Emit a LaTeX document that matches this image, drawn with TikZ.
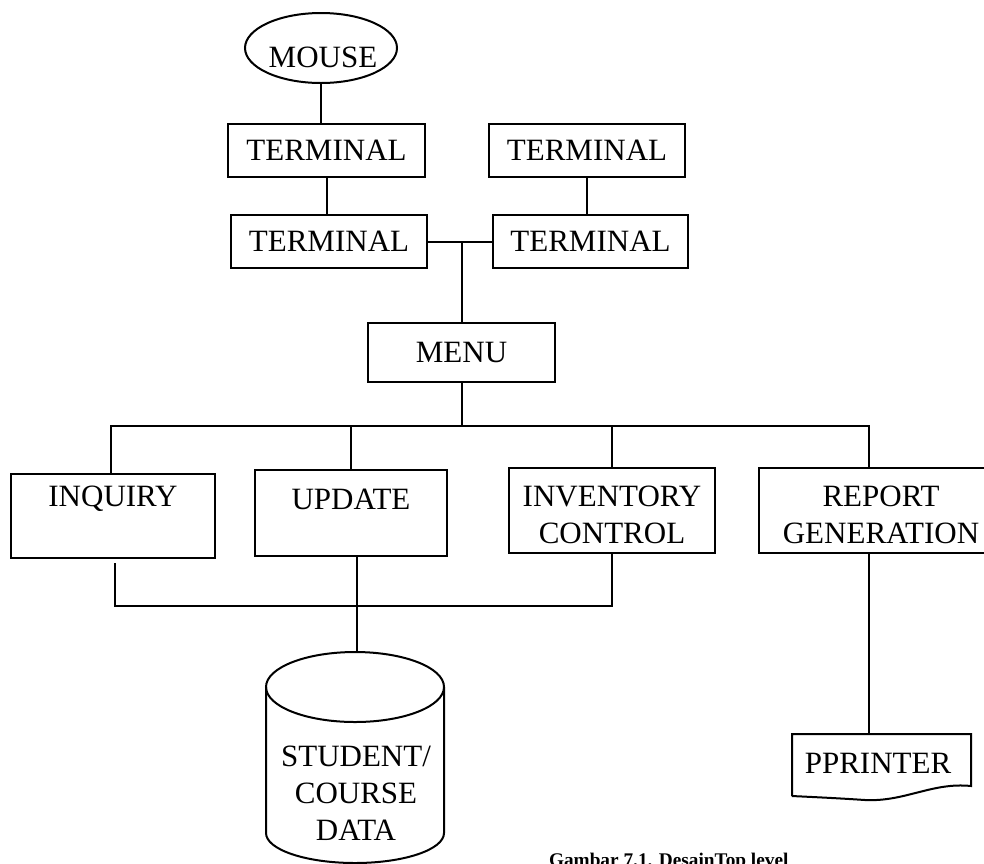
\documentclass[tikz,border=0pt]{standalone}
\usepackage{fontspec}
\setmainfont{Liberation Serif}
\usetikzlibrary{shapes.geometric}
\begin{document}
\begin{tikzpicture}[x=1pt,y=-1pt,line width=2pt,
  box/.style={draw,rectangle,inner sep=0pt,font=\fontsize{31}{38}\selectfont},
  lbl/.style={inner sep=0pt,font=\fontsize{31}{37}\selectfont,align=center},
  caption/.style={inner sep=0pt,font=\fontsize{19.3}{22}\selectfont\bfseries}]
\useasboundingbox (0,0) rectangle (984,863);
\clip (0,0) rectangle (984,863);

% input devices
\node[draw,ellipse,minimum width=152,minimum height=70,inner sep=0pt] (mouse) at (321,48) {};
\node[lbl] (mouseT) at (323,57) {MOUSE};
\node[box,minimum width=197,minimum height=53] (t1) at (326.5,150.5) {TERMINAL};
\node[box,minimum width=196,minimum height=53] (t2) at (587,150.5) {TERMINAL};
\node[box,minimum width=196,minimum height=53] (t3) at (329,241.5) {TERMINAL};
\node[box,minimum width=195,minimum height=53] (t4) at (590.5,241.5) {TERMINAL};

% menu and modules
\node[box,minimum width=187,minimum height=59] (menu) at (461.5,352.5) {MENU};
\node[box,minimum width=204,minimum height=84] (inq) at (113,516) {};
\node[lbl] (inqT) at (113,499) {INQUIRY};
\node[box,minimum width=192,minimum height=86] (upd) at (351,513) {};
\node[lbl] (updT) at (351,499) {UPDATE};
\node[box,minimum width=206,minimum height=85] (inv) at (612,510.5) {};
\node[lbl] (invT) at (612,515) {INVENTORY\\CONTROL};
\node[box,minimum width=244,minimum height=85] (rep) at (881,510.5) {};
\node[lbl] (repT) at (881,515) {REPORT\\GENERATION};

% connectors, upper part
\draw (mouse.south) -- (mouse.south |- t1.north);
\draw (t1.south) -- (t1.south |- t3.north);
\draw (t2.south) -- (t2.south |- t4.north);
\draw (t3.east) -- (t4.west);
\draw (menu.north) -- (menu.north |- t3.east);

% distribution bus under the menu
\coordinate (bus1) at (111,426);
\coordinate (bus2) at (869,426);
\draw (menu.south) -- (menu.south |- bus1);
\draw (bus1 |- inq.north) -- (bus1) -- (bus2) -- (bus2 |- rep.north);
\draw (upd.north) -- (upd.north |- bus1);
\draw (inv.north) -- (inv.north |- bus1);

% data store
\coordinate (cyltop) at (357,652);
\draw (355,687) ellipse [x radius=89,y radius=35];
\draw (266,687) -- (266,833) arc[start angle=180,end angle=0,x radius=89,y radius=30] -- (444,687);
\node[lbl] (db) at (356,793) {STUDENT/\\COURSE\\DATA};

% collecting bus into the data store
\coordinate (low1) at (115,606);
\coordinate (low2) at (612,606);
\coordinate (inqOut) at (115,563);
\draw (inqOut) -- (low1) -- (low2) -- (inv.south);
\draw (cyltop |- upd.south) -- (cyltop);

% printer (document shape with a wavy lower edge)
\coordinate (prntop) at (869,734);
\draw (792,796) -- (792,734) -- (971,734) -- (971,786)
  .. controls (932,782) and (905,802) .. (865,800)
  .. controls (835,798) and (812,797) .. (792,796);
\node[lbl] (prn) at (878,763) {PPRINTER};
\draw (bus2 |- rep.south) -- (prntop);

% caption
\node[caption,anchor=base west] (cap) at (548,866) {Gambar 7.1. DesainTop level};
\end{tikzpicture}
\end{document}
